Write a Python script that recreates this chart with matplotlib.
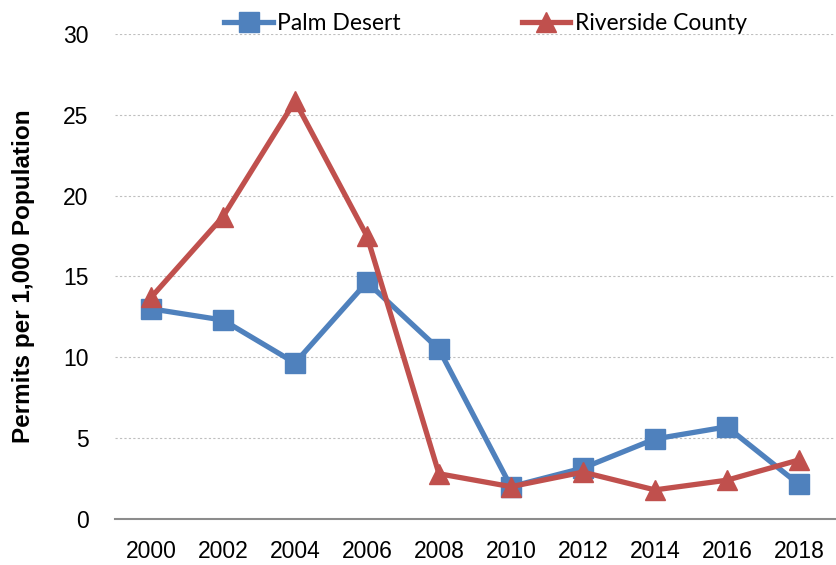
import matplotlib
matplotlib.use("Agg")
import matplotlib.pyplot as plt

years = ["2000", "2002", "2004", "2006", "2008", "2010", "2012", "2014", "2016", "2018"]
palm_desert = [13.0, 12.3, 9.65, 14.65, 10.5, 2.0, 3.15, 4.95, 5.7, 2.15]
riverside = [13.7, 18.7, 25.85, 17.5, 2.8, 2.0, 2.9, 1.8, 2.4, 3.65]

blue = "#4f81bd"
red = "#c0504d"

fig = plt.figure(figsize=(8.36, 5.65), dpi=100)
ax = fig.add_axes([0.1376, 0.0814, 0.861, 0.8586])

x = list(range(len(years)))
ax.plot(x, palm_desert, color=blue, lw=3.8, marker="s", ms=14, label="Palm Desert")
ax.plot(x, riverside, color=red, lw=3.8, marker="^", ms=15, label="Riverside County")

ax.set_xlim(-0.5, len(years) - 0.5)
ax.set_ylim(0, 30)
ax.set_yticks(range(0, 31, 5))
ax.set_xticks(x)
ax.set_xticklabels(years)
ax.tick_params(length=0, labelsize=16.5)
ax.tick_params(axis="x", pad=15)
ax.tick_params(axis="y", pad=19)
for lab in ax.get_xticklabels() + ax.get_yticklabels():
    lab.set_fontfamily("Liberation Sans")

ax.grid(axis="y", color="#bfbfbf", ls=(0, (2, 2)), lw=0.8)
ax.set_axisbelow(True)
for s in ["top", "right", "left"]:
    ax.spines[s].set_visible(False)
ax.spines["bottom"].set_color("#8c8c8c")
ax.spines["bottom"].set_linewidth(1.5)

ax.set_ylabel("Permits per 1,000 Population", fontsize=17.5,
              fontweight="bold", fontfamily="Liberation Sans", labelpad=20)

fig.legend(loc="upper center", bbox_to_anchor=(0.581, 1.014), ncol=2, frameon=False,
           prop={"family": "Lato", "size": 16.5}, columnspacing=5.3,
           handlelength=2.1, handletextpad=0.2)

fig.savefig("out.png", dpi=100)
